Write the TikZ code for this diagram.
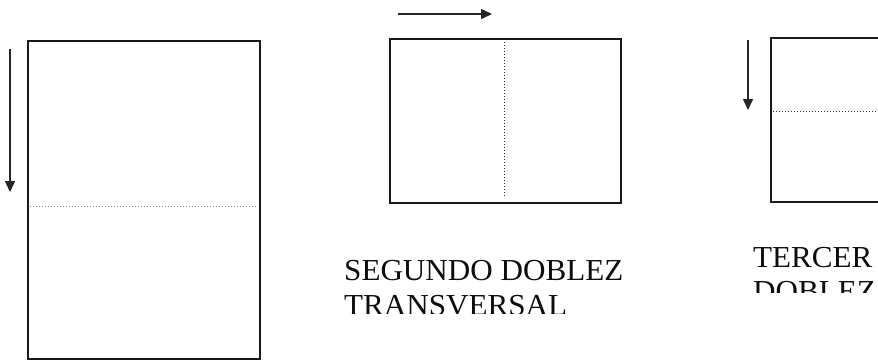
\documentclass[tikz,border=0pt]{standalone}
\usepackage{fontspec}
\setmainfont{Liberation Serif}
\usetikzlibrary{arrows.meta}
\tikzset{
  sheet/.style={draw=black!90, line width=2.4pt, inner sep=0pt, outer sep=0pt, fill=none},
  foldline/.style={line width=1pt, dash pattern=on 1pt off 2pt},
  foldarrow/.style={line width=1.5pt, draw=black!85, -{Triangle[length=11pt,width=10pt]}},
  caption/.style={anchor=base west, inner sep=0pt, font=\fontsize{30.5}{35}\selectfont, text=black!95}
}
\begin{document}
\begin{tikzpicture}[x=1pt,y=-1pt]
\clip (0,0) rectangle (878,362);
\fill[white] (0,0) rectangle (878,362);
% sheets
\node[sheet, minimum width=232pt, minimum height=318pt] (s1) at (144,200) {};
\node[sheet, minimum width=231pt, minimum height=164pt] (s2) at (505.5,121) {};
\node[sheet, minimum width=231pt, minimum height=164pt] (s3) at (886.5,120) {};
% fold lines
\coordinate (f1a) at (30,206); \coordinate (f1b) at (258,206);
\draw[foldline, draw=black!50] (f1a) -- (f1b);
\coordinate (f2a) at (504,42); \coordinate (f2b) at (504,198);
\draw[foldline, draw=black!85] (f2a) -- (f2b);
\coordinate (f3a) at (773,111); \coordinate (f3b) at (878,111);
\draw[foldline, draw=black!85] (f3a) -- (f3b);
% arrows
\coordinate (a1a) at (10,49); \coordinate (a1b) at (10,192);
\draw[foldarrow] (a1a) -- (a1b);
\coordinate (a2a) at (398,14); \coordinate (a2b) at (492,14);
\draw[foldarrow] (a2a) -- (a2b);
\coordinate (a3a) at (748,40); \coordinate (a3b) at (748,110);
\draw[foldarrow] (a3a) -- (a3b);
% captions
\node[caption] (t2a) at (344,280) {\scalebox{1.02}[1]{SEGUNDO DOBLEZ}};
\begin{scope}
\clip (330,285) rectangle (660,313);
\node[caption] (t2b) at (344,315) {\scalebox{1.02}[1]{TRANSVERSAL}};
\end{scope}
\node[caption] (t3a) at (753,267) {\scalebox{1.02}[1]{TERCER}};
\begin{scope}
\clip (740,272) rectangle (878,292);
\node[caption] (t3b) at (753,301) {\scalebox{1.02}[1]{DOBLEZ}};
\end{scope}
\end{tikzpicture}
\end{document}
